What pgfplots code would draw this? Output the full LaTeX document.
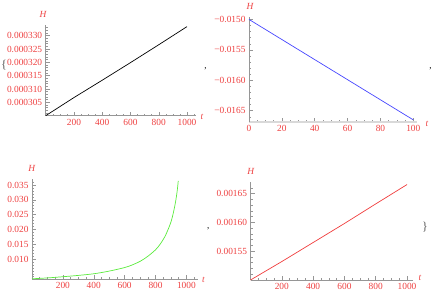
\documentclass[border=0pt]{standalone}
\usepackage{fontspec}
\setmainfont{Liberation Serif}
\usepackage{pgfplots}
\pgfplotsset{compat=1.18}
\definecolor{lab}{RGB}{238,64,64}
\definecolor{axg}{RGB}{150,150,150}
\definecolor{cblue}{RGB}{70,70,255}
\definecolor{cgreen}{RGB}{90,235,60}
\definecolor{cred}{RGB}{240,60,60}
\pgfplotsset{mstyle/.style={scale only axis, anchor=south west,
  axis x line=bottom, axis y line=left,
  axis line style={-,axg,line width=0.6bp},
  tick style={axg,line width=0.5bp},
  major tick length=4bp, minor tick length=2bp, tick align=inside,
  ticklabel style={font=\fontsize{9.4}{10}\selectfont, text=lab},
  scaled ticks=false, clip=false,
  every axis plot/.append style={line width=0.7bp, no markers}}}
\begin{document}
\begin{tikzpicture}
\path (0,0) rectangle (436bp,295bp);
% plot 1
\begin{axis}[mstyle, at={(45.7bp,179.3bp)}, width=149.8bp, height=90.7bp,
  xmin=0, xmax=1060, ymin=0.0003, ymax=0.000334,
  xtick={200,400,600,800,1000}, xticklabels={200,400,600,800,1000},
  minor xtick={50,100,...,1050},
  ytick={0.000305,0.00031,0.000315,0.00032,0.000325,0.00033},
  yticklabels={0.000305,0.000310,0.000315,0.000320,0.000325,0.000330},
  minor ytick={0.000301,0.000302,0.000303,0.000304,0.000306,0.000307,0.000308,0.000309,0.000311,0.000312,0.000313,0.000314,0.000316,0.000317,0.000318,0.000319,0.000321,0.000322,0.000323,0.000324,0.000326,0.000327,0.000328,0.000329,0.000331,0.000332,0.000333}]
\addplot[black] coordinates {(0,0.0003) (200,0.0003068) (400,0.0003133) (600,0.0003199) (800,0.0003266) (1000,0.0003334)};
\end{axis}
% plot 2
\begin{axis}[mstyle, at={(249bp,173bp)}, width=168.4bp, height=105bp,
  xmin=0, xmax=102.5, ymin=-0.016685, ymax=-0.01496,
  x axis line style={-,gray!30,line width=2bp},
  xtick={0,20,40,60,80,100}, xticklabels={0,20,40,60,80,100},
  minor xtick={5,10,...,100},
  ytick={-0.015,-0.0155,-0.016,-0.0165},
  yticklabels={−0.0150,−0.0155,−0.0160,−0.0165},
  minor ytick={-0.0151,-0.0152,-0.0153,-0.0154,-0.0156,-0.0157,-0.0158,-0.0159,-0.0161,-0.0162,-0.0163,-0.0164,-0.0166}]
\addplot[cblue] coordinates {(0,-0.0150) (20,-0.01533) (40,-0.01566) (60,-0.01599) (80,-0.01632) (100,-0.01665)};
\end{axis}
% plot 3
\begin{axis}[mstyle, at={(32bp,16.2bp)}, width=166bp, height=99.7bp,
  xmin=0, xmax=1075, ymin=0.0033, ymax=0.03698,
  xtick={200,400,600,800,1000}, xticklabels={200,400,600,800,1000},
  minor xtick={50,100,...,1050},
  ytick={0.01,0.015,0.02,0.025,0.03,0.035},
  yticklabels={0.010,0.015,0.020,0.025,0.030,0.035},
  minor ytick={0.004,0.005,0.006,0.007,0.008,0.009,0.011,0.012,0.013,0.014,0.016,0.017,0.018,0.019,0.021,0.022,0.023,0.024,0.026,0.027,0.028,0.029,0.031,0.032,0.033,0.034,0.036}]
\addplot[cgreen, smooth] coordinates {(0,0.0033) (100,0.0036) (200,0.0040) (300,0.00445) (400,0.0050) (500,0.0059) (600,0.0071) (650,0.0080) (700,0.0092) (750,0.0109) (800,0.0131) (830,0.0150) (860,0.0175) (880,0.0198) (900,0.0225) (915,0.0255) (930,0.0294) (941,0.0333) (947,0.03635)};
\end{axis}
% plot 4
\begin{axis}[mstyle, at={(250.5bp,15bp)}, width=162.8bp, height=98bp,
  xmin=0, xmax=1040, ymin=0.0015, ymax=0.00167,
  xtick={200,400,600,800,1000}, xticklabels={200,400,600,800,1000},
  minor xtick={50,100,...,1000},
  ytick={0.00155,0.0016,0.00165},
  yticklabels={0.00155,0.00160,0.00165},
  minor ytick={0.00151,0.00152,0.00153,0.00154,0.00156,0.00157,0.00158,0.00159,0.00161,0.00162,0.00163,0.00164,0.00166}]
\addplot[cred] coordinates {(0,0.0015) (200,0.001532) (400,0.001565) (600,0.001598) (800,0.001632) (1000,0.0016656)};
\end{axis}
% labels
\begin{scope}[every node/.style={text=lab, font=\itshape\fontsize{9.4}{10}\selectfont, inner sep=0pt}]
\node at (43bp,281bp) {H};
\node at (250bp,289bp) {H};
\node at (31.7bp,126.7bp) {H};
\node at (250.7bp,123.3bp) {H};
\node at (202bp,178.3bp) {t};
\node at (427bp,171.5bp) {t};
\node at (203.3bp,15.3bp) {t};
\node at (420bp,17bp) {t};
\end{scope}
\begin{scope}[every node/.style={text=black, font=\fontsize{9}{10}\selectfont, inner sep=0pt}]
\node at (205.5bp,226.5bp) {,};
\node at (430.5bp,226bp) {,};
\node at (208.3bp,66bp) {,};
\end{scope}
\begin{scope}[every node/.style={text=gray!70!black, font=\fontsize{12}{13}\selectfont, inner sep=0pt}]
\node at (4bp,230bp) {\{};
\node at (425bp,68bp) {\}};
\end{scope}
\end{tikzpicture}
\end{document}
